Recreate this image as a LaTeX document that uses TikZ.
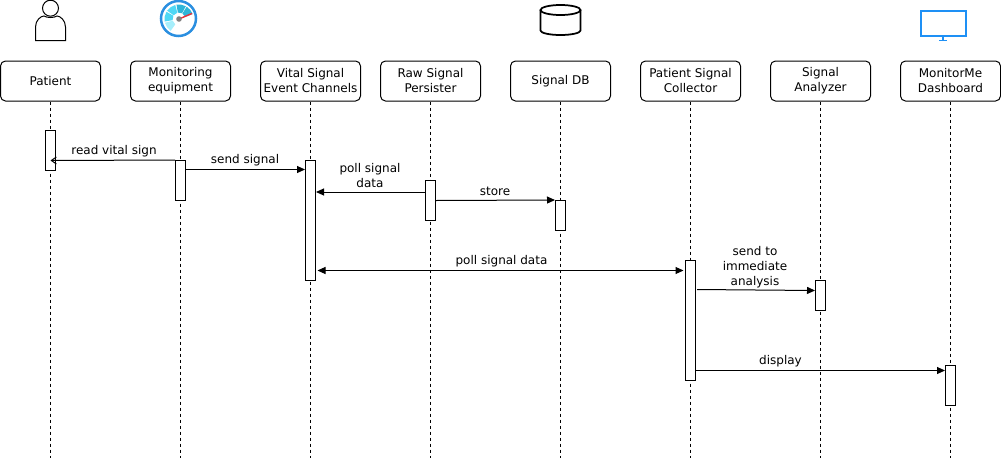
\documentclass[tikz,border=0pt]{standalone}
\usepackage{fontspec}
\setmainfont{DejaVu Sans}
\usetikzlibrary{arrows.meta}
\definecolor{gaugeblue}{HTML}{2B8FE0}
\definecolor{gaugelight}{HTML}{4FD8F5}
\definecolor{gaugepale}{HTML}{A6EEFB}
\definecolor{gaugeteal}{HTML}{2FB5D8}
\definecolor{gaugered}{HTML}{E8303A}
\definecolor{screenblue}{HTML}{1E90F5}
\newcommand{\gaugeseg}[3]{\fill[#3] (#1:6.5) arc (#1:#2:6.5) -- (#2:14.5) arc (#2:#1:14.5) -- cycle;}
\tikzset{
  actorbox/.style={draw,rounded corners=5pt,minimum width=100pt,minimum height=40pt,align=center,fill=white,inner sep=0pt,font=\fontsize{12pt}{15pt}\selectfont,line width=1pt},
  lifeline/.style={dashed,dash pattern=on 3pt off 3pt,line width=1pt},
  activebar/.style={draw,fill=white,minimum width=10pt,inner sep=0pt,line width=1pt},
  msg/.style={-{Triangle[length=8pt,width=7pt]},line width=1pt},
  msglabel/.style={align=center,inner sep=0pt,font=\fontsize{12pt}{15pt}\selectfont},
}
\begin{document}
\begin{tikzpicture}[x=1pt,y=-1pt]
\useasboundingbox (0,0) rectangle (1001,461);

% actors
\node[actorbox] (patient) at (50.5,81) {Patient};
\node[actorbox] (monitoring) at (180.5,81) {Monitoring\\equipment};
\node[actorbox] (vital) at (310.5,81) {Vital Signal\\Event Channels};
\node[actorbox] (raw) at (430.5,81) {Raw Signal\\Persister};
\node[actorbox] (db) at (560.5,81) {Signal DB};
\node[actorbox] (collector) at (690.5,81) {Patient Signal\\Collector};
\node[actorbox] (analyzer) at (820.5,81) {Signal\\Analyzer};
\node[actorbox] (dashboard) at (950.5,81) {MonitorMe\\Dashboard};

% lifeline ends
\coordinate (patientend) at (50.5,458);
\coordinate (monitoringend) at (180.5,458);
\coordinate (vitalend) at (310.5,458);
\coordinate (rawend) at (430.5,458);
\coordinate (dbend) at (560.5,458);
\coordinate (collectorend) at (690.5,458);
\coordinate (analyzerend) at (820.5,458);
\coordinate (dashboardend) at (950.5,458);
\foreach \who in {patient,monitoring,vital,raw,db,collector,analyzer,dashboard}
  \draw[lifeline] (\who.south) -- (\who end);

% activations
\node[activebar,minimum height=40pt] (patientbar) at (50.5,150.5) {};
\node[activebar,minimum height=40pt] (monitoringbar) at (180.5,180.5) {};
\node[activebar,minimum height=120pt] (vitalbar) at (310.5,220.5) {};
\node[activebar,minimum height=40pt] (rawbar) at (430.5,200.5) {};
\node[activebar,minimum height=30pt] (dbbar) at (560.5,215.5) {};
\node[activebar,minimum height=120pt] (collectorbar) at (690.5,320.5) {};
\node[activebar,minimum height=30pt] (analyzerbar) at (820.5,295.5) {};
\node[activebar,minimum height=40pt] (dashboardbar) at (950.5,385.5) {};

% messages
\coordinate (readend) at (50.5,160.5);
\draw[-{Straight Barb[length=5pt,width=7pt]},line width=1pt] (monitoringbar.north west) -- (readend);
\draw[msg] (monitoringbar.east |- 0,169.5) -- (vitalbar.west |- 0,169.5);
\draw[msg] (rawbar.west |- 0,192) -- (vitalbar.east |- 0,192);
\draw[msg] (rawbar.east |- 0,200.5) -- (dbbar.north west);
\draw[msg,{Triangle[length=8pt,width=7pt]}-{Triangle[length=8pt,width=7pt]},shorten <=1.5pt,shorten >=1.5pt] (vitalbar.east |- 0,270.5) -- (collectorbar.west |- 0,270.5);
\coordinate (sendstart) at (697,289.5);
\draw[msg] (sendstart) -- (analyzerbar.west |- 0,290.5);
\draw[msg] (collectorbar.east |- 0,370.5) -- (dashboardbar.west |- 0,370.5);

% message labels
\node[msglabel] (readlabel) at (114,151.5) {read vital sign};
\node[msglabel] (sendlabel) at (245,160.5) {send signal};
\node[msglabel] (polllabel) at (370,176) {poll signal\\data};
\node[msglabel] (storelabel) at (495,191.5) {store};
\node[msglabel] (pollbothlabel) at (501.5,261.5) {poll signal data};
\node[msglabel] (immediatelabel) at (755,267) {send to\\immediate\\analysis};
\node[msglabel] (displaylabel) at (780.5,361.5) {display};

% person
\draw[line width=1pt] (50.5,8.2) circle (8);
\draw[line width=1pt] (35.5,40.5) -- (35.5,27) .. controls (35.5,20) and (41,16) .. (44,16) .. controls (47,18) and (54,18) .. (57,16) .. controls (60,16) and (65.5,20) .. (65.5,27) -- (65.5,40.5) -- cycle;

% gauge
\draw[gaugeblue,line width=2.5pt] (178.5,18.5) circle (17.5);
\begin{scope}[shift={(179,19)},yscale=-1]
\gaugeseg{195}{235}{gaugepale}
\gaugeseg{150}{190}{gaugelight}
\gaugeseg{105}{145}{gaugelight}
\gaugeseg{62}{100}{gaugeteal}
\gaugeseg{20}{58}{gaugeteal}
\draw[gaugered,line width=1.4pt] (0,0) -- (13,5.5);
\fill[gray] (0,0) circle (2.8);
\end{scope}

% database
\draw[line width=1.75pt] (540.5,10) -- (540.5,30.5) arc[start angle=180,end angle=0,x radius=20,y radius=4.5] -- (580.5,10);
\draw[line width=1.75pt] (560.5,10) ellipse[x radius=20,y radius=5];

% screen
\draw[screenblue,line width=2pt] (920.5,10.5) rectangle (965.5,35.5);
\draw[screenblue,line width=1.5pt] (943,36) -- (943,40);
\draw[screenblue,line width=1.5pt] (939,40.5) -- (947,40.5);
\end{tikzpicture}
\end{document}
